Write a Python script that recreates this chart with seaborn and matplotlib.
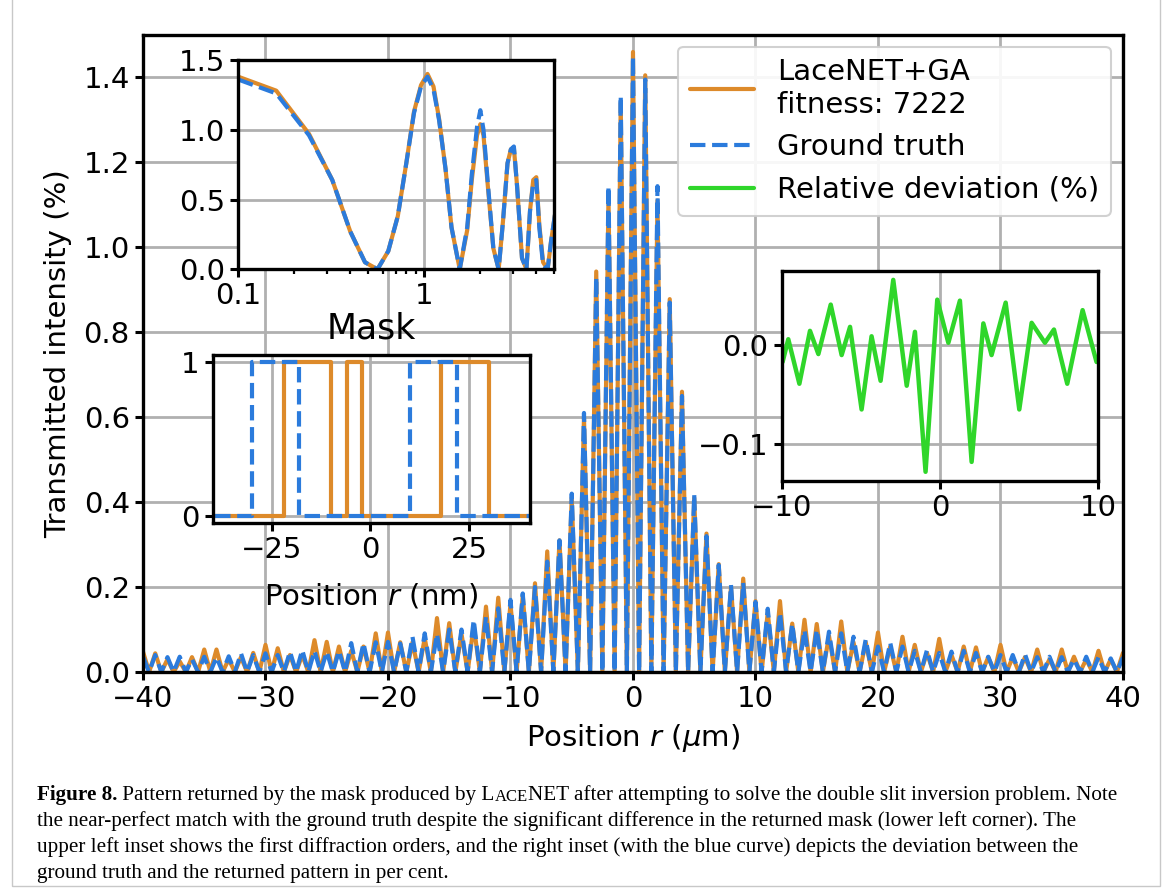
import numpy as np
import matplotlib
matplotlib.use("Agg")
import matplotlib.pyplot as plt
import matplotlib.ticker as mticker
from matplotlib.lines import Line2D
from matplotlib.patches import Rectangle
import seaborn as sns

# main pattern: fringe maxima at integer r (um), the pattern goes to ~0 between fringes
fringe_r = list(range(-40, 41))
peak_fit = [0.048, 0.044, 0.030, 0.025, 0.035, 0.053, 0.053, 0.030, 0.035, 0.045,
            0.064, 0.056, 0.040, 0.040, 0.075, 0.071, 0.060, 0.050, 0.060, 0.091,
            0.093, 0.070, 0.070, 0.080, 0.127, 0.115, 0.090, 0.110, 0.154, 0.175,
            0.160, 0.180, 0.209, 0.284, 0.310, 0.410, 0.600, 0.943, 1.120, 1.340,
            1.460,
            1.405, 1.110, 0.878, 0.660, 0.410, 0.326, 0.254, 0.200, 0.220, 0.167,
            0.140, 0.167, 0.114, 0.123, 0.113, 0.085, 0.119, 0.070, 0.070, 0.093,
            0.060, 0.083, 0.064, 0.045, 0.078, 0.040, 0.060, 0.058, 0.035, 0.064,
            0.035, 0.035, 0.053, 0.030, 0.053, 0.036, 0.030, 0.050, 0.030, 0.045]
peak_truth = [0.036, 0.040, 0.035, 0.036, 0.030, 0.036, 0.035, 0.037, 0.044, 0.040,
              0.044, 0.040, 0.048, 0.052, 0.050, 0.048, 0.050, 0.068, 0.068, 0.070,
              0.071, 0.067, 0.083, 0.091, 0.090, 0.100, 0.100, 0.123, 0.130, 0.150,
              0.170, 0.185, 0.200, 0.260, 0.310, 0.420, 0.610, 0.930, 1.144, 1.357,
              1.450,
              1.395, 1.144, 0.870, 0.650, 0.418, 0.320, 0.252, 0.205, 0.210, 0.165,
              0.149, 0.140, 0.114, 0.099, 0.100, 0.095, 0.091, 0.083, 0.077, 0.060,
              0.069, 0.060, 0.050, 0.052, 0.045, 0.048, 0.050, 0.045, 0.036, 0.040,
              0.040, 0.042, 0.035, 0.036, 0.035, 0.030, 0.036, 0.035, 0.032, 0.035]
trough_val = 0.0

# upper left inset: first diffraction orders, log r axis
inset_r = [0.10, 0.16, 0.24, 0.32, 0.40, 0.48, 0.56, 0.64, 0.72, 0.80, 0.88, 0.96,
           1.04, 1.12, 1.20, 1.30, 1.40, 1.55, 1.70, 1.80, 1.92, 2.00, 2.08, 2.20,
           2.35, 2.51, 2.65, 2.80, 2.92, 3.03, 3.15, 3.35, 3.54, 3.70, 3.85, 4.00,
           4.15, 4.35, 4.60, 4.80, 5.05]
inset_fit = [1.38, 1.28, 0.97, 0.64, 0.27, 0.05, 0.00, 0.13, 0.38, 0.76, 1.13, 1.32,
             1.40, 1.31, 1.08, 0.72, 0.30, 0.00, 0.28, 0.64, 0.96, 1.04, 0.96, 0.58,
             0.15, 0.00, 0.35, 0.76, 0.86, 0.87, 0.60, 0.08, 0.00, 0.42, 0.64, 0.66,
             0.32, 0.05, 0.00, 0.20, 0.40]
inset_truth = [1.36, 1.26, 0.96, 0.64, 0.27, 0.05, 0.00, 0.13, 0.38, 0.76, 1.12, 1.31,
               1.38, 1.29, 1.07, 0.72, 0.30, 0.00, 0.30, 0.68, 1.02, 1.14, 1.00, 0.60,
               0.15, 0.00, 0.35, 0.76, 0.86, 0.88, 0.60, 0.08, 0.00, 0.42, 0.62, 0.64,
               0.30, 0.03, 0.00, 0.20, 0.40]

# mask (nm), step values
mask_r = [-45, -30, -22, -18, -10, -6, -2, 10, 18, 22, 30, 45]
mask_truth = [0, 1, 1, 0, 0, 0, 0, 1, 1, 0, 0, 0]
mask_fit = [0, 0, 1, 1, 0, 1, 0, 0, 1, 1, 0, 0]

# right inset: relative deviation (%)
dev_r = [-9.94, -9.58, -8.88, -8.21, -7.68, -6.90, -6.21, -5.68, -4.95, -4.32,
         -3.75, -2.95, -2.10, -1.58, -0.91, -0.17, 0.53, 1.26, 2.00, 2.74,
         3.26, 4.15, 5.01, 5.79, 6.63, 7.20, 8.04, 9.01, 9.89]
dev_val = [-0.017, 0.006, -0.039, 0.0145, -0.009, 0.041, -0.010, 0.0185, -0.065, 0.009,
           -0.036, 0.066, -0.041, 0.0135, -0.128, 0.046, 0.0024, 0.045, -0.118, 0.022,
           -0.010, 0.043, -0.065, 0.0226, 0.0024, 0.0158, -0.039, 0.0354, -0.017]

ORANGE = "#dd8a2a"
BLUE = "#2b7bdc"
GREEN = "#2fd62a"
FS = 21

sns.set_theme(style="whitegrid", rc={
    "axes.edgecolor": "black", "axes.linewidth": 2.4,
    "grid.color": "#b0b0b0", "grid.linewidth": 2.0,
    "xtick.bottom": True, "ytick.left": True,
    "xtick.major.size": 6, "ytick.major.size": 6,
    "xtick.major.width": 2.2, "ytick.major.width": 2.2,
    "xtick.minor.size": 3.5, "xtick.minor.width": 1.6,
    "xtick.color": "black", "ytick.color": "black",
    "axes.labelcolor": "black", "text.color": "black",
    "xtick.labelsize": FS, "ytick.labelsize": FS, "axes.labelsize": FS,
    "legend.fontsize": FS,
    "lines.solid_joinstyle": "round", "lines.dash_joinstyle": "round",
})
plt.rcParams["font.family"] = ["DejaVu Sans"]
plt.rcParams["mathtext.fontset"] = "dejavusans"

# build fringe vertices (maxima at r, ~zero half way to the next one)
main_x, main_fit, main_truth = [], [], []
for i, r in enumerate(fringe_r):
    main_x.append(r)
    main_fit.append(peak_fit[i])
    main_truth.append(peak_truth[i])
    if i < len(fringe_r) - 1:
        main_x.append(r + 0.5)
        main_fit.append(trough_val)
        main_truth.append(trough_val)

fig = plt.figure(figsize=(11.71, 8.94), dpi=100)

ax = fig.add_axes([0.1221, 0.2483, 0.8369, 0.7126])
sns.lineplot(x=main_x, y=main_fit, ax=ax, color=ORANGE, lw=3, estimator=None)
sns.lineplot(x=main_x, y=main_truth, ax=ax, color=BLUE, lw=3, linestyle="--", estimator=None)
ax.set_xlim(-40, 40)
ax.set_ylim(0, 1.5)
ax.set_xticks(range(-40, 41, 10))
ax.set_yticks([0.0, 0.2, 0.4, 0.6, 0.8, 1.0, 1.2, 1.4])
ax.set_xlabel(r"Position $r$ ($\mu$m)", labelpad=6)
ax.set_ylabel("Transmitted intensity (%)", labelpad=8)

handles = [Line2D([], [], color=ORANGE, lw=3),
           Line2D([], [], color=BLUE, lw=3, ls="--"),
           Line2D([], [], color=GREEN, lw=3)]
leg = ax.legend(handles, ["LaceNET+GA\nfitness: 7222", "Ground truth", "Relative deviation (%)"],
                loc="upper right", handlelength=2.2, framealpha=0.9, borderaxespad=0.4)
leg.get_frame().set_edgecolor("#cccccc")
leg.get_frame().set_linewidth(1.5)

# upper left inset
ax1 = fig.add_axes([0.2035, 0.6988, 0.2699, 0.2341])
sns.lineplot(x=inset_r, y=inset_fit, ax=ax1, color=ORANGE, lw=3, estimator=None)
sns.lineplot(x=inset_r, y=inset_truth, ax=ax1, color=BLUE, lw=3, linestyle="--", estimator=None)
ax1.set_xscale("log")
ax1.set_xlim(0.1, 5)
ax1.set_ylim(0, 1.5)
ax1.set_yticks([0.0, 0.5, 1.0, 1.5])
ax1.xaxis.set_major_formatter(mticker.FuncFormatter(lambda v, p: f"{v:g}"))
ax1.xaxis.set_minor_formatter(mticker.NullFormatter())
ax1.tick_params(axis="x", which="minor", bottom=True)
ax1.grid(True, which="major")
ax1.grid(False, which="minor")

# mask inset
ax2 = fig.add_axes([0.1816, 0.4147, 0.2710, 0.1883])
sns.lineplot(x=mask_r, y=mask_fit, ax=ax2, color=ORANGE, lw=3, drawstyle="steps-post", estimator=None)
sns.lineplot(x=mask_r, y=mask_truth, ax=ax2, color=BLUE, lw=3, linestyle="--",
             drawstyle="steps-post", estimator=None)
ax2.set_xlim(-40, 40.5)
ax2.set_ylim(-0.047, 1.047)
ax2.set_xticks([-25, 0, 25])
ax2.set_yticks([0, 1])
ax2.set_xlabel(r"Position $r$ (nm)", labelpad=12)
ax2.set_title("Mask", fontsize=25, pad=12)

# deviation inset
ax3 = fig.add_axes([0.6675, 0.4623, 0.2704, 0.2346])
sns.lineplot(x=dev_r, y=dev_val, ax=ax3, color=GREEN, lw=3.2, estimator=None)
ax3.set_xlim(-10, 10)
ax3.set_ylim(-0.137, 0.075)
ax3.set_xticks([-10, 0, 10])
ax3.set_yticks([-0.1, 0.0])
ax3.yaxis.set_major_formatter(mticker.FuncFormatter(lambda v, p: f"{v:.1f}".replace("-", "\u2212")))

for a in (ax, ax1, ax2, ax3):
    a.set_facecolor("white")
    for s in a.spines.values():
        s.set_color("black")
        s.set_linewidth(2.4)
    a.tick_params(which="major", length=6, width=2.2, direction="out")

# page frame
fig.patches.append(Rectangle((12 / 1171, 1 - 886 / 894), 1148 / 1171, 0.02 + 886 / 894,
                             transform=fig.transFigure, fill=False, ec="#c8c8c8", lw=1.0))

# caption
cap = dict(family="Liberation Serif", fontsize=15.2, color="black")
x0 = 37 / 1171
t = fig.text(x0, 1 - 800 / 894, "Figure 8.", fontweight="bold", va="baseline", **cap)
for seg, size in [(" Pattern returned by the mask produced by L", 15.2), ("ACE", 12.0),
                  ("NET after attempting to solve the double slit inversion problem. Note", 15.2)]:
    t = ax.annotate(seg, xy=(1, 0), xycoords=t, xytext=(0, 0), textcoords="offset points",
                    va="bottom", ha="left", family="Liberation Serif", fontsize=size,
                    color="black", annotation_clip=False)
lines = ["the near-perfect match with the ground truth despite the significant difference in the returned mask (lower left corner). The",
         "upper left inset shows the first diffraction orders, and the right inset (with the blue curve) depicts the deviation between the",
         "ground truth and the returned pattern in per cent."]
for i, s in enumerate(lines):
    fig.text(x0, 1 - (826 + 26 * i) / 894, s, va="baseline", **cap)

fig.savefig("out.png", dpi=100)
